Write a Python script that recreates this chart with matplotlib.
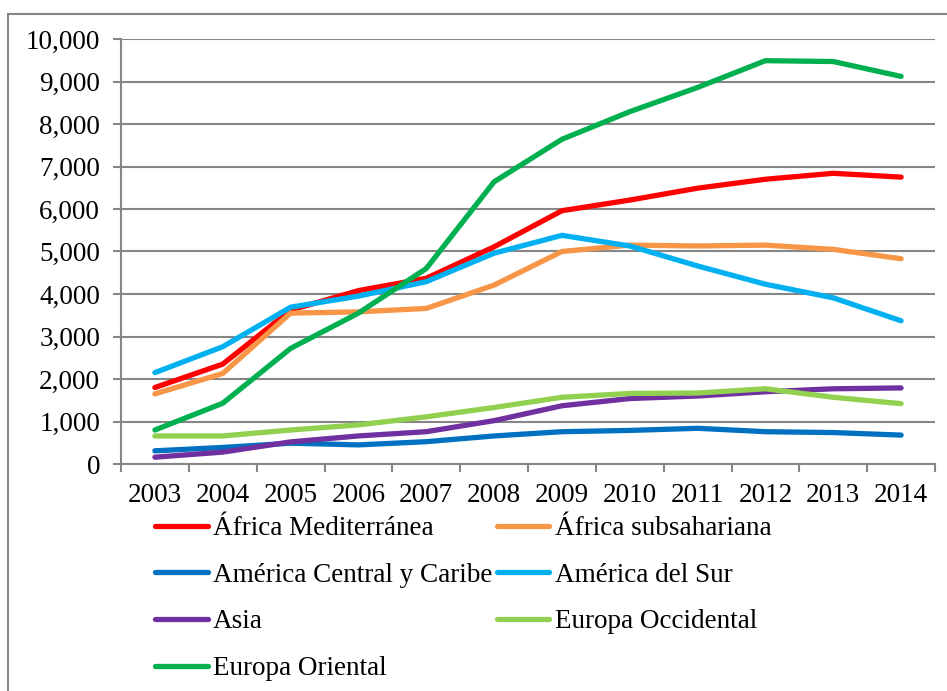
import numpy as np
import matplotlib
matplotlib.use("Agg")
import matplotlib.pyplot as plt
from matplotlib.patches import Rectangle

# Data
years = ['2003', '2004', '2005', '2006', '2007', '2008',
         '2009', '2010', '2011', '2012', '2013', '2014']

africa_med = [1800, 2350, 3620, 4080, 4370, 5110, 5960, 6210, 6490, 6700, 6840, 6750]
africa_sub = [1650, 2130, 3550, 3580, 3660, 4210, 5000, 5150, 5130, 5150, 5050, 4830]
am_central = [310, 390, 490, 450, 525, 660, 760, 790, 840, 760, 740, 680]
am_sur = [2150, 2760, 3690, 3950, 4290, 4960, 5380, 5130, 4660, 4230, 3910, 3370]
asia = [160, 280, 520, 660, 760, 1020, 1370, 1540, 1600, 1700, 1770, 1790]
europa_occ = [660, 660, 800, 920, 1110, 1330, 1570, 1660, 1670, 1770, 1570, 1420]
europa_or = [800, 1430, 2720, 3550, 4600, 6640, 7640, 8290, 8860, 9490, 9470, 9120]

series = [
    ('África Mediterránea', africa_med, '#FF0000'),
    ('África subsahariana', africa_sub, '#F79646'),
    ('América Central y Caribe', am_central, '#0070C0'),
    ('América del Sur', am_sur, '#00B0F0'),
    ('Asia', asia, '#7030A0'),
    ('Europa Occidental', europa_occ, '#92D050'),
    ('Europa Oriental', europa_or, '#00B050'),
]

plt.rcParams['font.family'] = ['Liberation Serif', 'DejaVu Serif']
fs = 19.5
grid_col = '#868686'

fig = plt.figure(figsize=(9.47, 6.91), dpi=100)
ax = fig.add_axes([121/947, 1 - 464/691, (935 - 121)/947, (464 - 39)/691])

x = np.arange(len(years))
handles = []
for name, vals, col in series:
    h, = ax.plot(x, vals, color=col, lw=3.8, solid_capstyle='round',
                 solid_joinstyle='round', label=name)
    handles.append(h)

ax.set_xlim(-0.5, len(years) - 0.5)
ax.set_ylim(0, 10000)
ax.set_yticks(np.arange(0, 10001, 1000))
ax.set_yticklabels([f'{v:,}' for v in range(0, 10001, 1000)])
ax.set_xticks(x)
ax.set_xticklabels(years)
ax.set_xticks(np.arange(-0.5, len(years), 1), minor=True)
ax.tick_params(axis='x', which='major', length=0, pad=14, labelsize=fs)
ax.tick_params(axis='x', which='minor', length=6, width=1.5, color=grid_col)
ax.tick_params(axis='y', length=6, width=1.5, color=grid_col, pad=9, labelsize=fs)
ax.yaxis.grid(True, color=grid_col, lw=1.5)
ax.set_axisbelow(True)
for s in ['top', 'right']:
    ax.spines[s].set_visible(False)
for s in ['left', 'bottom']:
    ax.spines[s].set_color(grid_col)
    ax.spines[s].set_linewidth(1.5)

# legend laid out row-wise in two columns
order = [0, 2, 4, 6, 1, 3, 5]
leg = fig.legend([handles[i] for i in order], [series[i][0] for i in order],
                 ncol=2, loc='upper left', bbox_to_anchor=(155/947, 1 - 516/691),
                 frameon=False, fontsize=fs, handlelength=1.95, handletextpad=0.2,
                 columnspacing=0.15, labelspacing=0.8, borderpad=0, borderaxespad=0)

# outer chart border
fig.patches.append(Rectangle((8/947, -0.1), 1.2, 1 - 14/691 + 0.1,
                             transform=fig.transFigure, fill=False,
                             edgecolor=grid_col, lw=1.5, clip_on=False))

fig.savefig('out.png', dpi=100)
